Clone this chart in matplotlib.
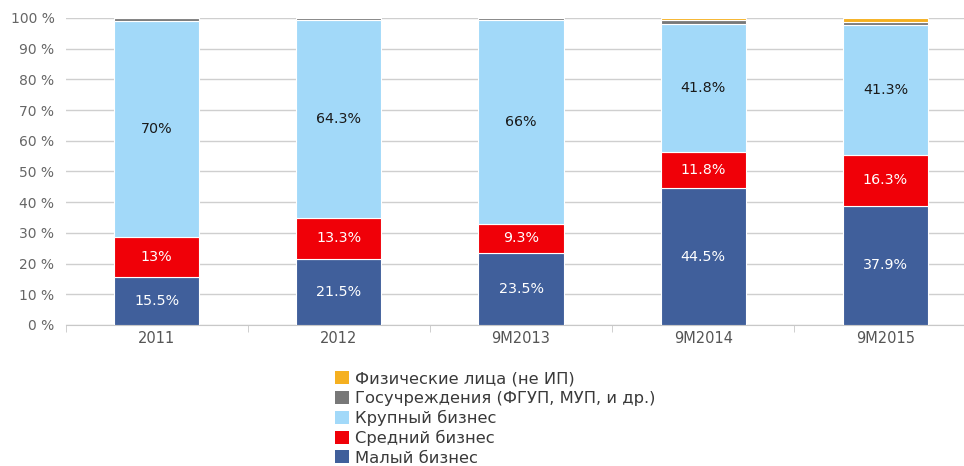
import numpy as np
import matplotlib
matplotlib.use("Agg")
from matplotlib import pyplot as plt
from matplotlib.patches import Patch

plt.rcParams['font.family'] = ['DejaVu Sans']
plt.rcParams['font.sans-serif'] = ['DejaVu Sans']

periods = ["2011", "2012", "9M2013", "9M2014", "9M2015"]

small  = [15.5, 21.5, 23.5, 44.5, 37.9]   # Малый бизнес
medium = [13.0, 13.3, 9.3, 11.8, 16.3]    # Средний бизнес
large  = [70.0, 64.3, 66.0, 41.8, 41.3]   # Крупный бизнес
gov    = [1.1, 0.7, 0.8, 1.3, 1.0]        # Госучреждения
people = [0.0, 0.0, 0.0, 0.6, 1.2]        # Физические лица

names = ["Малый бизнес", "Средний бизнес", "Крупный бизнес",
         "Госучреждения (ФГУП, МУП, и др.)", "Физические лица (не ИП)"]
colors = ["#405f9b", "#f00008", "#a2d9f9", "#787878", "#f5b020"]
text_colors = ["white", "white", "#1a1a1a", None, None]
labels_on = [True, True, True, False, False]

series = np.array([small, medium, large, gov, people])
# percent stacking: each column is scaled to 100 %
pct = series / series.sum(axis=0) * 100

fig = plt.figure(figsize=(9.64, 4.66), dpi=100)
# last category runs past the right edge of the figure
ax = fig.add_axes([0.068, 0.3026, 0.945, 0.6588])

x = np.arange(len(periods))
bottom = np.zeros(len(periods))
for i in range(len(names)):
    ax.bar(x, pct[i], 0.467, bottom=bottom, color=colors[i],
           edgecolor="white", linewidth=0.8, zorder=3)
    if labels_on[i]:
        for j in range(len(periods)):
            val = series[i][j]
            txt = ("%g" % val) + "%"
            ax.text(x[j], bottom[j] + pct[i][j] / 2, txt, ha="center",
                    va="center", fontsize=10.3, color=text_colors[i], zorder=4)
    bottom += pct[i]

ax.set_xlim(-0.5, len(periods) - 0.5)
ax.set_ylim(0, 100)
ax.set_yticks(np.arange(0, 101, 10))
ax.set_yticklabels(["%d %%" % v for v in range(0, 101, 10)])
ax.set_xticks(x)
ax.set_xticklabels(periods)
ax.set_xticks(np.arange(-0.5, len(periods), 1), minor=True)

ax.grid(axis="y", color="#cfcfcf", linewidth=1, zorder=0)
for s in ["top", "right", "left"]:
    ax.spines[s].set_visible(False)
ax.spines["bottom"].set_color("#c8c8c8")
ax.tick_params(axis="y", length=0, pad=8, labelsize=10, labelcolor="#666666")
ax.tick_params(axis="x", which="major", length=0, pad=4, labelsize=10.5,
               labelcolor="#555555")
ax.tick_params(axis="x", which="minor", length=5, color="#c8c8c8")

handles = [Patch(facecolor=colors[i], label=names[i]) for i in range(len(names))][::-1]
fig.legend(handles=handles, loc="upper left", bbox_to_anchor=(0.339, 0.221),
           frameon=False, fontsize=11.8, handlelength=0.85, handleheight=0.85,
           handletextpad=0.4, labelspacing=0.25, borderpad=0,
           labelcolor="#3a3a3a")

fig.savefig("out.png", dpi=100)
